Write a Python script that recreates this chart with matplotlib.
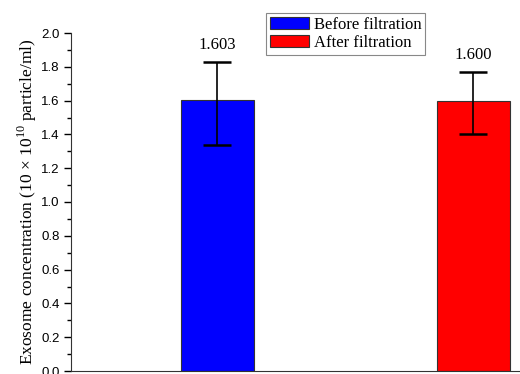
import numpy as np
import matplotlib.pyplot as plt
from matplotlib.ticker import MultipleLocator

# mean concentration and error bar ends (10 x 10^10 particle/ml)
groups = ['Before filtration', 'After filtration']
means = [1.603, 1.600]
err_low = [0.263, 0.198]
err_high = [0.227, 0.170]
colors = ['#0000ff', '#ff0000']
value_labels = ['1.603', '1.600']

serif = 'Liberation Serif'
sans = 'Liberation Sans'
plt.rcParams['mathtext.fontset'] = 'custom'
plt.rcParams['mathtext.rm'] = serif

fig = plt.figure(figsize=(5.2, 3.74), dpi=100)
ax = fig.add_axes([71 / 520, 1 - 371 / 374, 1 - 71 / 520, (371 - 33) / 374])

x = np.arange(len(groups))
for i in range(len(groups)):
    ax.bar(x[i], means[i], width=0.285, color=colors[i], edgecolor='#333333',
           linewidth=0.8, label=groups[i], zorder=2)
    ax.errorbar(x[i], means[i], yerr=[[err_low[i]], [err_high[i]]], fmt='none',
                ecolor='black', elinewidth=1.2, capsize=10, capthick=1.8, zorder=3)
    ax.text(x[i], means[i] + err_high[i] + 0.05, value_labels[i], ha='center',
            va='bottom', fontsize=12, family=serif)

ax.set_xlim(-0.572, 1.182)
ax.set_ylim(0, 2.0)
ax.set_xticks([])
ax.yaxis.set_major_locator(MultipleLocator(0.2))
ax.yaxis.set_minor_locator(MultipleLocator(0.1))
ax.tick_params(axis='y', which='major', length=5, width=1, labelsize=9.5, pad=3)
ax.tick_params(axis='y', which='minor', length=3, width=1)
for lab in ax.get_yticklabels():
    lab.set_family(sans)
ax.spines['top'].set_visible(False)
ax.spines['right'].set_visible(False)
ax.spines['left'].set_color('#333333')
ax.spines['bottom'].set_color('#333333')

ax.set_ylabel('Exosome concentration (10 \u00d7 10$^{\\mathrm{10}}$ particle/ml)',
              fontsize=12.5, family=serif, labelpad=2)

leg = fig.legend(loc='upper left', bbox_to_anchor=(266 / 520, 1 - 13 / 374),
                 prop={'family': serif, 'size': 12}, handlelength=2.3,
                 handleheight=0.75, handletextpad=0.3, borderpad=0.25,
                 labelspacing=0.1, fancybox=False, framealpha=1,
                 edgecolor='#888888', borderaxespad=0)
leg.get_frame().set_linewidth(0.8)

fig.savefig('out.png', dpi=100)
